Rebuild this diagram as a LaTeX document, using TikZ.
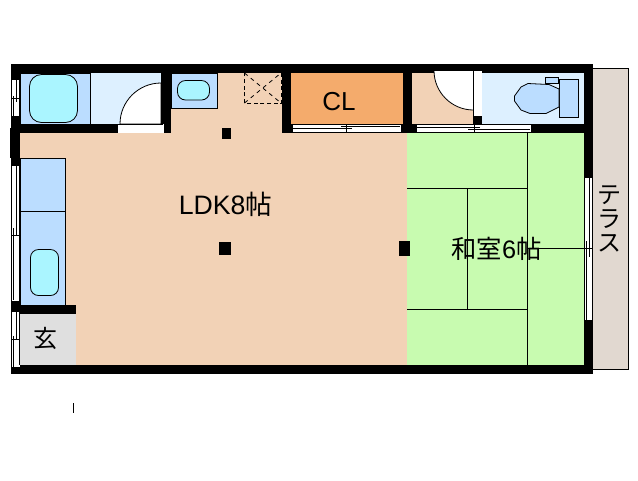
\documentclass[tikz,border=0pt]{standalone}
\usepackage{fontspec}
\setmainfont{Liberation Sans}
\newfontfamily\cjk{Noto Sans CJK JP}
\definecolor{floorc}{HTML}{F2D2B6}
\definecolor{tatami}{HTML}{C8FBB0}
\definecolor{closet}{HTML}{F4AB6C}
\definecolor{wetroom}{HTML}{DDF0FF}
\definecolor{panel}{HTML}{BBDDFF}
\definecolor{tub}{HTML}{AAF5FF}
\definecolor{terrace}{HTML}{E1D8D0}
\definecolor{entry}{HTML}{DFDFDF}
\tikzset{
  wall/.style={fill=black,draw=none},
  thin line/.style={draw=black,line width=0.6pt},
  label text/.style={inner sep=0pt,text=black},
}
\begin{document}
\begin{tikzpicture}[x=0.75pt,y=-0.75pt]
\useasboundingbox (0,0) rectangle (638,480);
% terrace
\filldraw[fill=terrace,draw=black,line width=0.75pt] (593,68.5) -- (628.5,68.5) -- (628.5,369.5) -- (593,369.5);
% floors
\fill[floorc] (20,133) rectangle (407,365);
\fill[floorc] (171,73) rectangle (282,133);
\fill[floorc] (412,73) rectangle (473,124);
\fill[tatami] (407,133) rectangle (584,365);
\fill[closet] (291,73) rectangle (403,124);
\fill[wetroom] (90,73) rectangle (161,124);
\fill[wetroom] (482,73) rectangle (584,124);
\fill[entry] (20,314) rectangle (76,365);
% bath
\filldraw[fill=panel,thin line] (20,73) rectangle (90.5,124);
\draw[thin line,fill=tub,rounded corners=9pt] (29.5,74.5) rectangle (77.5,122.5);
% door arc bath
\filldraw[fill=white,thin line] (120,124) arc[start angle=180,end angle=270,radius=41] -- (161,124) -- cycle;
% wash
\filldraw[fill=panel,thin line] (171,73) rectangle (217,108);
\draw[thin line,fill=tub,rounded corners=6pt] (177.5,80.5) rectangle (209.5,100);
% storage dashed
\draw[thin line,dash pattern=on 3pt off 2pt] (244.5,103) -- (244.5,73) (281,73) -- (281,103) -- (244.5,103);
\draw[thin line,dash pattern=on 3pt off 3pt] (244.5,103) -- (281,73) (244.5,73) -- (281,103);
% toilet fixtures
\filldraw[fill=panel,thin line] (559.5,79.5) rectangle (578.5,117.5);
\filldraw[fill=panel,thin line] (545.5,77.5) rectangle (558.5,83.5);
\filldraw[fill=panel,thin line] (559,89) -- (549,84.5) -- (528,83.5) -- (521,87) -- (514.5,96) -- (514.5,101) -- (521,110) -- (530,113.5) -- (546,113.5) -- (559,107) -- cycle;
% counter
\filldraw[fill=panel,thin line] (20,158) rectangle (65.5,305);
\draw[thin line] (20,211.5) -- (65.5,211.5);
\draw[thin line,fill=tub,rounded corners=6pt] (30.5,249.5) rectangle (58.5,295.5);
% tatami lines
\draw[thin line] (527.5,133) -- (527.5,365);
\draw[thin line] (407,188.5) -- (527.5,188.5);
\draw[thin line] (407,309.5) -- (527.5,309.5);
\draw[thin line] (467.5,188.5) -- (467.5,309.5);
\draw[thin line] (527.5,248.5) -- (592,248.5);
% walls
\fill[wall] (11,64) rectangle (593,73);
\fill[wall] (11,73) rectangle (20,80);
\fill[wall] (11,116) rectangle (20,128);
\fill[wall] (10,128) rectangle (20,158);
\fill[wall] (11,158) rectangle (20,166);
\fill[wall] (11,301) rectangle (20,312);
\fill[wall] (20,305) rectangle (76,314);
\fill[wall] (11,365) rectangle (593,374);
\fill[wall] (20,124) rectangle (118,133);
\fill[wall] (161,73) rectangle (171,124);
\fill[wall] (164,124) rectangle (171,133);
\fill[wall] (282,73) rectangle (291,133);
\fill[wall] (291,124) rectangle (293,133);
\fill[wall] (403,73) rectangle (412,124);
\fill[wall] (401,124) rectangle (417,133);
\fill[wall] (473,116) rectangle (482,124);
\fill[wall] (531,124) rectangle (593,133);
\fill[wall] (584,73) rectangle (593,178);
\fill[wall] (584,320) rectangle (593,365);
\fill[wall] (222,128) rectangle (231,139);
\fill[wall] (219,242) rectangle (231,255);
\fill[wall] (399,241) rectangle (410,256);
% toilet door
\filldraw[fill=white,thin line] (434,70.5) arc[start angle=180,end angle=90,radius=39.5] -- (473.5,70.5) -- cycle;
\fill[white] (473,70) rectangle (482,116);
\draw[thin line] (473.5,70) -- (473.5,116) (434,70.5) -- (482,70.5);
% openings
\fill[white] (118,124) rectangle (163,133);
\fill[white] (293,124) rectangle (401,133);
\fill[white] (417,124) rectangle (531,133);
\draw[thin line] (118,124.5) -- (163,124.5);
\draw[thin line] (293,124.5) -- (401,124.5) (293,132.5) -- (401,132.5);
\draw[thin line] (293,128.5) -- (352,128.5) (341,126.5) -- (400,126.5) (346,124.5) -- (346,132.5);
\draw[thin line] (417,124.5) -- (531,124.5) (417,132.5) -- (531,132.5);
\draw[thin line] (417,127) -- (480,127) (468,129.5) -- (530,129.5) (474.5,124) -- (474.5,133);
% left windows
\fill[white] (11,80) rectangle (20,116);
\draw[thin line] (11.5,80) -- (11.5,116) (16,80) -- (16,102) (13.5,96) -- (13.5,116) (12,98.5) -- (19,98.5) (19.5,80) -- (19.5,116);
\fill[white] (11,166) rectangle (20,301);
\draw[thin line] (11.5,166) -- (11.5,301) (16,166) -- (16,235) (13.5,228) -- (13.5,300) (12,235) -- (19,235) (19.5,166) -- (19.5,301);
\fill[white] (11,312) rectangle (20,367);
\draw[thin line] (11.5,312) -- (11.5,367) (16,312) -- (16,340) (13.5,336) -- (13.5,367) (12,339) -- (19,339) (19.5,312) -- (19.5,365);
% right window
\fill[white] (584,178) rectangle (593,320);
\draw[thin line] (584.5,178) -- (584.5,320) (592.5,178) -- (592.5,320) (589.5,178) -- (589.5,257) (586.5,241) -- (586.5,320);
\draw[thin line] (584,248.5) -- (592,248.5);
% small mark
\draw[thin line] (73.5,403) -- (73.5,413);
% text
\node[label text,font=\fontsize{20}{22}\selectfont] (ldk) at (225.5,204) {LDK8{\cjk 帖}};
\node[label text,font=\fontsize{19.5}{22}\selectfont] (cl) at (339,102) {CL};
\node[label text,font=\fontsize{19}{22}\selectfont] (wa) at (496.5,249) {{\cjk 和室}6{\cjk 帖}};
\node[label text,font=\fontsize{18}{22}\selectfont\cjk] (gen) at (45,338) {玄};
\node[label text,align=center,font=\fontsize{18}{18}\selectfont\cjk] (ter) at (609.5,219) {テ\\ラ\\ス};
\end{tikzpicture}
\end{document}
